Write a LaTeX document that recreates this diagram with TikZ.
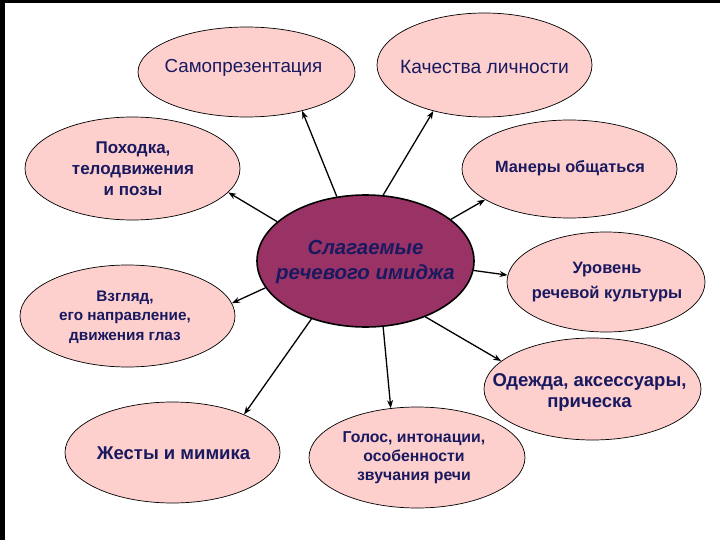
\documentclass[tikz,border=0pt]{standalone}
\usepackage{fontspec}
\setmainfont{Liberation Sans}
\usetikzlibrary{shapes.geometric,arrows.meta}
\definecolor{navy}{RGB}{25,25,95}
\definecolor{pinkfill}{RGB}{253,207,205}
\definecolor{plum}{RGB}{153,51,102}
\tikzset{
  sat/.style={ellipse, draw=black, line width=0.7pt, fill=pinkfill, inner sep=0pt},
  lbl/.style={text=navy, align=center, inner sep=0pt},
  arr/.style={line width=1.3pt, -{Stealth[length=8pt,width=6pt]}},
}
\begin{document}
\begin{tikzpicture}[x=1pt,y=1pt]
\useasboundingbox (0,0) rectangle (720,-540);
\fill[white] (0,0) rectangle (720,-540);
\fill[black] (0,0) rectangle (720,-3);
\fill[black] (0,0) rectangle (5,-540);

% satellites
\node[sat, minimum width=217pt, minimum height=90pt]  (sam) at (246.5,-72) {};
\node[sat, minimum width=215pt, minimum height=104pt] (kach) at (484.5,-65) {};
\node[sat, minimum width=215pt, minimum height=98pt]  (man) at (569.5,-169) {};
\node[sat, minimum width=215pt, minimum height=103pt] (poh) at (132.5,-168.5) {};
\node[sat, minimum width=215pt, minimum height=102pt] (vzg) at (127.5,-316) {};
\node[sat, minimum width=215pt, minimum height=101pt] (zhe) at (172.5,-452.5) {};
\node[sat, minimum width=216pt, minimum height=101pt] (gol) at (417,-457.5) {};
\node[sat, minimum width=198pt, minimum height=100pt] (urv) at (606,-282) {};
\node[sat, minimum width=217pt, minimum height=102pt] (ode) at (592.5,-389) {};
% centre
\node[ellipse, draw=black, line width=1.6pt, fill=plum, inner sep=0pt,
      minimum width=217pt, minimum height=132pt] (c) at (365.5,-261) {};

% labels
\node[lbl, font=\fontsize{18.8}{22}\selectfont] (tsam) at (243.5,-68) {Самопрезентация};
\node[lbl, font=\fontsize{19.2}{22}\selectfont] (tkach) at (484.5,-67) {Качества личности};
\node[lbl, font=\fontsize{16.3}{20}\selectfont\bfseries] (tman) at (570,-168) {Манеры общаться};
\node[lbl, font=\fontsize{17}{21}\selectfont\bfseries] (tpoh) at (133,-169) {Походка,\\телодвижения\\и позы};
\node[lbl, font=\fontsize{15.3}{19.5}\selectfont\bfseries] (tvzg) at (125,-317) {Взгляд,\\его направление,\\движения глаз};
\node[lbl, font=\fontsize{18.5}{22}\selectfont\bfseries] (tzhe) at (173.5,-453) {Жесты и мимика};
\node[lbl, font=\fontsize{15.8}{19}\selectfont\bfseries] (tgol) at (414,-458) {Голос, интонации,\\особенности\\звучания речи};
\node[lbl, font=\fontsize{16.5}{25}\selectfont\bfseries] (turv) at (607,-282.5) {Уровень\\речевой культуры};
\node[lbl, font=\fontsize{18.5}{21}\selectfont\bfseries] (tode) at (589.5,-392.5) {Одежда, аксессуары,\\прическа};
\node[lbl, font=\fontsize{20.4}{25}\selectfont\bfseries\itshape] (tc) at (365.5,-262) {Слагаемые\\речевого имиджа};

% arrows
\draw[arr] (c.114) -- (sam.325);
\draw[arr] (c.75) -- (kach.222.7);
\draw[arr] (c.26.4) -- (man.200.8);
\draw[arr] (c.156) -- (poh.346);
\draw[arr] (c.195) -- (vzg.7.7);
\draw[arr] (c.227) -- (zhe.28.3);
\draw[arr] (c.285) -- (gol.118.7);
\draw[arr] (c.317) -- (ode.163);
\draw[arr] (c.355) -- (urv.176.5);
\end{tikzpicture}
\end{document}
